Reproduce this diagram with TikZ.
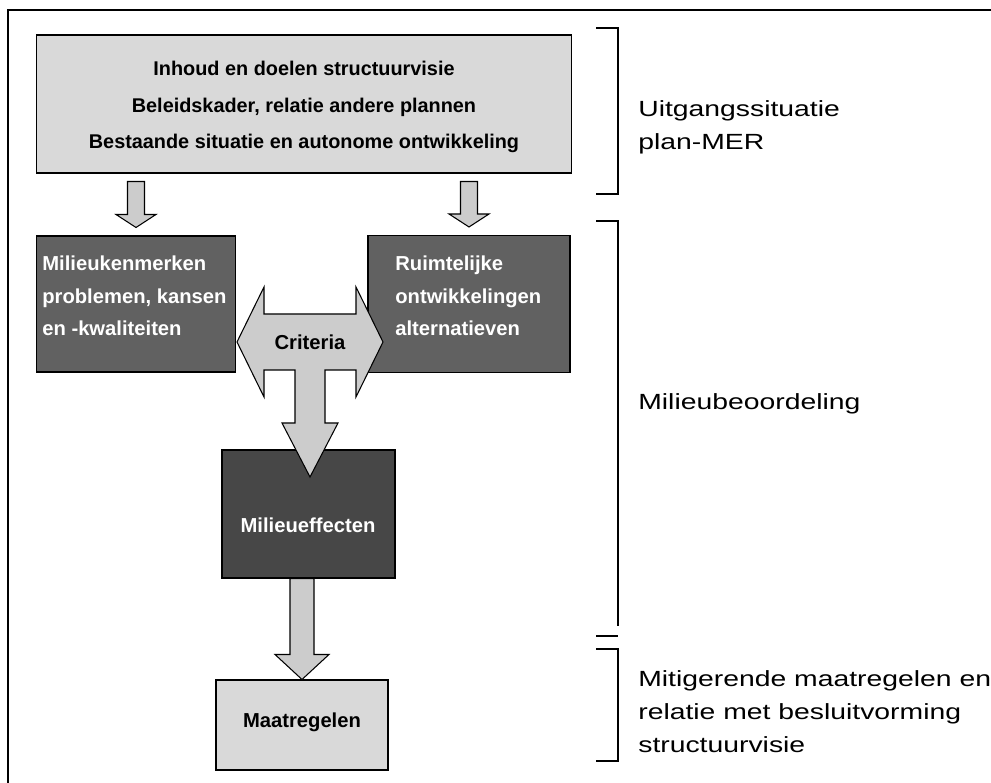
\documentclass[tikz,border=0pt]{standalone}
\usepackage{fontspec}
\setmainfont{Liberation Sans}
\usetikzlibrary{positioning}
\usetikzlibrary{calc}
\definecolor{lightbox}{gray}{0.85}
\definecolor{darkbox}{gray}{0.38}
\definecolor{darkerbox}{gray}{0.28}
\definecolor{arrowgray}{gray}{0.80}
\tikzset{
    lightbx/.style = {draw, fill=lightbox, line width=0.6pt, inner sep=0},
    darkbx/.style = {draw, fill=darkbox, line width=0.6pt, inner sep=0},
    boxtext/.style = {font=\bfseries\fontsize{11.5}{18.5}\selectfont, inner sep=0},
    blockarrow/.style = {draw, fill=arrowgray, line width=0.6pt, line join=miter},
    brace/.style = {line width=1pt},
    sidelabel/.style = {anchor=west, align=left, inner sep=0, font=\fontsize{12.5}{18.7}\selectfont},
}
% wide side labels
\newcommand{\wide}[1]{\scalebox{1.29}[1]{#1}}
% block arrow pointing down: from, to, shaft half width, head half width, head length
\newcommand{\dnarrow}[5]{%
    \draw[blockarrow] ($(#1)+(-#3,0)$) -- ($(#2)+(-#3,-#5)$) -- ($(#2)+(-#4,-#5)$) -- (#2)
        -- ($(#2)+(#4,-#5)$) -- ($(#2)+(#3,-#5)$) -- ($(#1)+(#3,0)$) -- cycle;}

\begin{document}
\begin{tikzpicture}[x=0.02cm, y=-0.02cm]
    \useasboundingbox (0,0) rectangle (991,783);
    \draw[line width=1pt] (8,783) -- (8,10) -- (991,10);

    % boxes
    \node[lightbx, minimum width=10.72cm, minimum height=2.76cm] (top) at (304,104) {};
    \node[boxtext, align=center, font=\bfseries\fontsize{11.3}{21}\selectfont] (toptext) at (304,107)
        {Inhoud en doelen structuurvisie\\Beleidskader, relatie andere plannen\\Bestaande situatie en autonome ontwikkeling};
    \node[darkbx, minimum width=3.98cm, minimum height=2.72cm] (lbox) at (136,304) {};
    \node[boxtext, white, align=left, anchor=west] (ltext) at (42,296)
        {Milieukenmerken\\problemen, kansen\\en -kwaliteiten};
    \node[darkbx, minimum width=4.04cm, minimum height=2.74cm] (rbox) at (469,304) {};
    \node[boxtext, white, align=left, anchor=west] (rtext) at (395,296)
        {Ruimtelijke\\ontwikkelingen\\alternatieven};
    \node[draw, fill=darkerbox, line width=0.6pt, minimum width=3.46cm, minimum height=2.56cm] (mbox) at (308.5,514) {};
    \node[boxtext, white] (mtext) at (308,525) {Milieueffecten};
    \node[lightbx, minimum width=3.44cm, minimum height=1.8cm] (mat) at (302,725) {};
    \node[boxtext] (mattext) at (302,722) {Maatregelen};

    % arrows
    \coordinate (a1s) at ($(top.south -| lbox.north)+(0,8)$);
    \coordinate (a1e) at ($(lbox.north)+(0,-8)$);
    \coordinate (a2s) at ($(top.south -| rbox.north)+(0,8)$);
    \coordinate (a2e) at ($(rbox.north)+(0,-8)$);
    \dnarrow{a1s}{a1e}{8.5}{20}{13}
    \dnarrow{a2s}{a2e}{8.5}{20}{13}
    \coordinate (a3s) at (mbox.south -| mat.north);
    \dnarrow{a3s}{mat.north}{12}{27}{25}

    \coordinate (crit) at (310,342);
    \draw[blockarrow] ($(crit)+(-73,0)$) -- ++(27,-55) -- ++(0,27) -- ++(92,0) -- ++(0,-27)
        -- ($(crit)+(73,0)$) -- ++(-27,55) -- ++(0,-27) -- ++(-31,0) -- ++(0,53) -- ++(13,0)
        -- ($(crit)+(0,135)$) -- ++(-28,-54) -- ++(13,0) -- ++(0,-53) -- ++(-31,0) -- ++(0,27) -- cycle;
    \node[boxtext] (crittext) at (crit) {Criteria};

    % brackets
    \draw[brace] (596,28) -- (618,28) -- (618,194) -- (596,194);
    \draw[brace] (596,221) -- (618,221) -- (618,626);
    \draw[brace] (596,636) -- (618,636);
    \draw[brace] (596,649) -- (618,649) -- (618,761) -- (596,761);

    \node[sidelabel] (uitg) at (638,127) {\wide{Uitgangssituatie}\\\wide{plan-MER}};
    \node[sidelabel] (milb) at (638,404) {\wide{Milieubeoordeling}};
    \node[sidelabel] (mitig) at (638,712) {\wide{Mitigerende maatregelen en}\\\wide{relatie met besluitvorming}\\\wide{structuurvisie}};
\end{tikzpicture}
\end{document}
